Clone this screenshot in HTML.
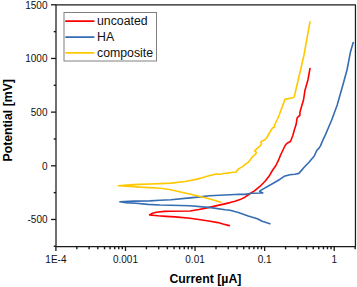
<!DOCTYPE html>
<html><head><meta charset="utf-8"><style>
html,body{margin:0;padding:0;background:#fff;}
svg{display:block;}
.t{font-family:"Liberation Sans",sans-serif;font-size:10px;fill:#111;}
.lb{font-family:"Liberation Sans",sans-serif;font-size:12.3px;font-weight:bold;fill:#000;}
.lg{font-family:"Liberation Sans",sans-serif;font-size:12.3px;fill:#111;}
</style></head><body>
<svg width="357" height="287" viewBox="0 0 357 287">
<polyline points="229.3,225.6 223.0,224.0 218.0,222.6 210.0,221.2 204.0,220.2 190.0,218.2 175.0,216.9 166.0,216.4 158.0,215.8 152.0,215.2 149.5,214.9 152.5,213.2 156.1,212.3 164.5,211.4 170.0,211.2 190.0,211.0 199.0,209.5 208.2,207.6 218.0,205.4 223.6,204.1 230.0,202.6 235.0,201.3 240.0,199.6 245.0,197.2 250.2,193.5 254.4,190.9 259.6,186.7 264.9,181.5 269.0,176.3 272.7,170.0 275.9,165.5 278.5,160.2 280.6,155.0 284.9,146.0 286.6,143.6 288.4,142.5 290.5,141.5 292.2,137.0 292.9,135.2 294.3,130.0 296.1,124.5 296.9,119.3 297.3,117.7 299.9,115.4 299.9,112.5 301.1,108.0 303.5,100.0 305.0,90.2 307.9,80.0 310.0,68.5" fill="none" stroke="#ff0000" stroke-width="1.6" stroke-linejoin="round" stroke-linecap="round"/>
<polyline points="269.9,223.7 262.2,221.3 257.3,218.8 248.2,216.0 238.4,212.5 230.0,210.2 225.0,209.8 211.0,207.6 190.0,205.7 160.0,205.0 147.8,204.4 136.0,203.3 126.0,202.6 119.9,201.8 133.8,201.1 150.0,200.9 160.0,200.2 171.0,199.7 190.0,197.9 200.0,196.9 209.6,195.7 240.0,194.3 245.0,194.4 251.3,193.3 262.8,193.0 259.6,191.4 260.7,190.4 275.0,182.2 280.0,179.2 284.2,176.3 289.8,174.8 295.0,174.2 298.8,173.4 301.3,170.6 304.4,167.0 308.6,162.8 311.7,159.1 314.3,156.0 315.9,152.3 317.0,150.2 319.0,148.1 320.6,145.6 322.3,141.4 325.5,134.6 328.6,127.3 331.7,120.0 337.2,105.0 342.8,85.3 347.0,70.0 350.4,52.3 353.2,42.5" fill="none" stroke="#356cb2" stroke-width="1.6" stroke-linejoin="round" stroke-linecap="round"/>
<polyline points="221.0,202.3 208.2,198.5 197.0,195.7 185.0,193.0 169.6,189.5 160.0,188.3 150.0,187.6 140.0,187.1 133.8,186.6 118.2,185.7 133.8,184.6 140.0,184.4 150.0,184.0 160.0,183.6 171.0,183.1 185.0,181.5 196.0,179.4 200.0,178.4 206.1,176.5 216.2,174.0 220.4,174.3 223.5,173.5 227.6,173.1 233.5,172.3 235.8,172.1 238.6,168.9 242.9,166.4 245.8,163.8 248.6,162.0 252.4,156.8 255.7,153.9 256.5,152.3 254.6,151.0 255.3,150.1 258.2,147.6 260.7,145.5 261.6,143.4 260.8,142.2 261.6,141.3 264.5,140.1 266.6,138.0 269.7,132.5 272.5,128.0 274.5,127.0 274.2,125.6 277.0,120.0 279.2,115.0 284.9,99.6 286.0,99.1 293.8,97.5 294.3,96.5 297.0,85.0 304.0,55.0 310.0,21.7" fill="none" stroke="#ffc800" stroke-width="1.6" stroke-linejoin="round" stroke-linecap="round"/>
<rect x="56.0" y="4.8" width="299.45" height="241.7" fill="none" stroke="#1a1a1a" stroke-width="1.25" stroke-linejoin="round"/>
<line x1="51.0" y1="4.800000000000011" x2="56.0" y2="4.800000000000011" stroke="#1a1a1a" stroke-width="1.3"/>
<text x="47.5" y="8.800000000000011" text-anchor="end" class="t">1500</text>
<line x1="51.0" y1="58.46666666666668" x2="56.0" y2="58.46666666666668" stroke="#1a1a1a" stroke-width="1.3"/>
<text x="47.5" y="62.46666666666668" text-anchor="end" class="t">1000</text>
<line x1="51.0" y1="112.13333333333335" x2="56.0" y2="112.13333333333335" stroke="#1a1a1a" stroke-width="1.3"/>
<text x="47.5" y="116.13333333333335" text-anchor="end" class="t">500</text>
<line x1="51.0" y1="165.8" x2="56.0" y2="165.8" stroke="#1a1a1a" stroke-width="1.3"/>
<text x="47.5" y="169.8" text-anchor="end" class="t">0</text>
<line x1="51.0" y1="219.46666666666667" x2="56.0" y2="219.46666666666667" stroke="#1a1a1a" stroke-width="1.3"/>
<text x="47.5" y="223.46666666666667" text-anchor="end" class="t">-500</text>
<line x1="53.7" y1="31.633333333333354" x2="56.0" y2="31.633333333333354" stroke="#1a1a1a" stroke-width="1.4"/>
<line x1="53.7" y1="85.30000000000001" x2="56.0" y2="85.30000000000001" stroke="#1a1a1a" stroke-width="1.4"/>
<line x1="53.7" y1="138.96666666666667" x2="56.0" y2="138.96666666666667" stroke="#1a1a1a" stroke-width="1.4"/>
<line x1="53.7" y1="192.63333333333335" x2="56.0" y2="192.63333333333335" stroke="#1a1a1a" stroke-width="1.4"/>
<line x1="53.7" y1="246.3" x2="56.0" y2="246.3" stroke="#1a1a1a" stroke-width="1.4"/>
<line x1="55.9" y1="246.5" x2="55.9" y2="251.0" stroke="#1a1a1a" stroke-width="1.3"/>
<text x="55.9" y="263.0" text-anchor="middle" class="t">1E-4</text>
<line x1="76.85" y1="246.5" x2="76.85" y2="249.3" stroke="#1a1a1a" stroke-width="1.4"/>
<line x1="89.10" y1="246.5" x2="89.10" y2="249.3" stroke="#1a1a1a" stroke-width="1.4"/>
<line x1="97.79" y1="246.5" x2="97.79" y2="249.3" stroke="#1a1a1a" stroke-width="1.4"/>
<line x1="104.53" y1="246.5" x2="104.53" y2="249.3" stroke="#1a1a1a" stroke-width="1.4"/>
<line x1="110.04" y1="246.5" x2="110.04" y2="249.3" stroke="#1a1a1a" stroke-width="1.4"/>
<line x1="114.70" y1="246.5" x2="114.70" y2="249.3" stroke="#1a1a1a" stroke-width="1.4"/>
<line x1="118.74" y1="246.5" x2="118.74" y2="249.3" stroke="#1a1a1a" stroke-width="1.4"/>
<line x1="122.30" y1="246.5" x2="122.30" y2="249.3" stroke="#1a1a1a" stroke-width="1.4"/>
<line x1="125.47999999999999" y1="246.5" x2="125.47999999999999" y2="251.0" stroke="#1a1a1a" stroke-width="1.3"/>
<text x="125.47999999999999" y="263.0" text-anchor="middle" class="t">0.001</text>
<line x1="146.43" y1="246.5" x2="146.43" y2="249.3" stroke="#1a1a1a" stroke-width="1.4"/>
<line x1="158.68" y1="246.5" x2="158.68" y2="249.3" stroke="#1a1a1a" stroke-width="1.4"/>
<line x1="167.37" y1="246.5" x2="167.37" y2="249.3" stroke="#1a1a1a" stroke-width="1.4"/>
<line x1="174.11" y1="246.5" x2="174.11" y2="249.3" stroke="#1a1a1a" stroke-width="1.4"/>
<line x1="179.62" y1="246.5" x2="179.62" y2="249.3" stroke="#1a1a1a" stroke-width="1.4"/>
<line x1="184.28" y1="246.5" x2="184.28" y2="249.3" stroke="#1a1a1a" stroke-width="1.4"/>
<line x1="188.32" y1="246.5" x2="188.32" y2="249.3" stroke="#1a1a1a" stroke-width="1.4"/>
<line x1="191.88" y1="246.5" x2="191.88" y2="249.3" stroke="#1a1a1a" stroke-width="1.4"/>
<line x1="195.06" y1="246.5" x2="195.06" y2="251.0" stroke="#1a1a1a" stroke-width="1.3"/>
<text x="195.06" y="263.0" text-anchor="middle" class="t">0.01</text>
<line x1="216.01" y1="246.5" x2="216.01" y2="249.3" stroke="#1a1a1a" stroke-width="1.4"/>
<line x1="228.26" y1="246.5" x2="228.26" y2="249.3" stroke="#1a1a1a" stroke-width="1.4"/>
<line x1="236.95" y1="246.5" x2="236.95" y2="249.3" stroke="#1a1a1a" stroke-width="1.4"/>
<line x1="243.69" y1="246.5" x2="243.69" y2="249.3" stroke="#1a1a1a" stroke-width="1.4"/>
<line x1="249.20" y1="246.5" x2="249.20" y2="249.3" stroke="#1a1a1a" stroke-width="1.4"/>
<line x1="253.86" y1="246.5" x2="253.86" y2="249.3" stroke="#1a1a1a" stroke-width="1.4"/>
<line x1="257.90" y1="246.5" x2="257.90" y2="249.3" stroke="#1a1a1a" stroke-width="1.4"/>
<line x1="261.46" y1="246.5" x2="261.46" y2="249.3" stroke="#1a1a1a" stroke-width="1.4"/>
<line x1="264.64" y1="246.5" x2="264.64" y2="251.0" stroke="#1a1a1a" stroke-width="1.3"/>
<text x="264.64" y="263.0" text-anchor="middle" class="t">0.1</text>
<line x1="285.59" y1="246.5" x2="285.59" y2="249.3" stroke="#1a1a1a" stroke-width="1.4"/>
<line x1="297.84" y1="246.5" x2="297.84" y2="249.3" stroke="#1a1a1a" stroke-width="1.4"/>
<line x1="306.53" y1="246.5" x2="306.53" y2="249.3" stroke="#1a1a1a" stroke-width="1.4"/>
<line x1="313.27" y1="246.5" x2="313.27" y2="249.3" stroke="#1a1a1a" stroke-width="1.4"/>
<line x1="318.78" y1="246.5" x2="318.78" y2="249.3" stroke="#1a1a1a" stroke-width="1.4"/>
<line x1="323.44" y1="246.5" x2="323.44" y2="249.3" stroke="#1a1a1a" stroke-width="1.4"/>
<line x1="327.48" y1="246.5" x2="327.48" y2="249.3" stroke="#1a1a1a" stroke-width="1.4"/>
<line x1="331.04" y1="246.5" x2="331.04" y2="249.3" stroke="#1a1a1a" stroke-width="1.4"/>
<line x1="334.21999999999997" y1="246.5" x2="334.21999999999997" y2="251.0" stroke="#1a1a1a" stroke-width="1.3"/>
<text x="334.21999999999997" y="263.0" text-anchor="middle" class="t">1</text>
<line x1="355.17" y1="246.5" x2="355.17" y2="249.3" stroke="#1a1a1a" stroke-width="1.4"/>
<text x="205.4" y="283.2" text-anchor="middle" class="lb" style="font-size:12.9px" textLength="72" lengthAdjust="spacingAndGlyphs">Current [µA]</text>
<text transform="translate(12.1,120.3) rotate(-90)" text-anchor="middle" class="lb" style="font-size:13px" textLength="82.5" lengthAdjust="spacingAndGlyphs">Potential [mV]</text>
<rect x="64" y="12.5" width="92.5" height="48.5" fill="#fff" stroke="#808080" stroke-width="1"/>
<line x1="65.9" y1="21.2" x2="93.7" y2="21.2" stroke="#ff0000" stroke-width="1.7" stroke-linecap="round"/>
<text x="97" y="25.4" class="lg">uncoated</text>
<line x1="65.9" y1="37.05" x2="93.7" y2="37.05" stroke="#356cb2" stroke-width="1.7" stroke-linecap="round"/>
<text x="97" y="41.25" class="lg">HA</text>
<line x1="65.9" y1="52.9" x2="93.7" y2="52.9" stroke="#ffc800" stroke-width="1.7" stroke-linecap="round"/>
<text x="97" y="57.1" class="lg">composite</text>
</svg>
</body></html>
